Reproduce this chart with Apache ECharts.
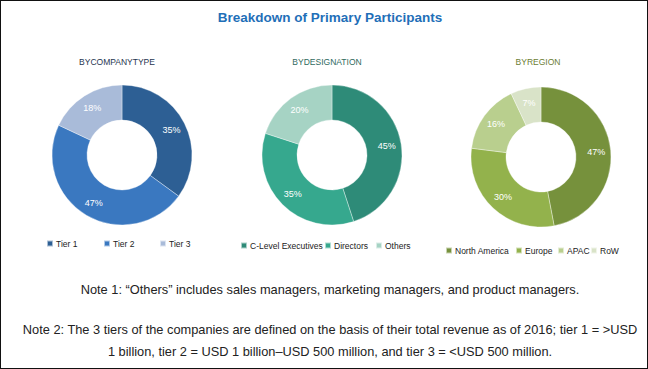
<!DOCTYPE html>
<html>
<head>
<meta charset="utf-8">
<script src="https://cdn.jsdelivr.net/npm/echarts@6/dist/echarts.min.js"></script>
<style>
html,body{margin:0;padding:0;background:#fff;}
#frame{width:648px;height:369px;box-sizing:border-box;border:1px solid #111;position:relative;overflow:hidden;}
#chart{position:absolute;left:-1px;top:-1px;width:648px;height:369px;}
</style>
</head>
<body>
<div id="frame"><div id="chart"></div></div>
<script>
const mainTitle = 'Breakdown of Primary Participants';
const panelTitles = ['BYCOMPANYTYPE', 'BYDESIGNATION', 'BYREGION'];

const companyCategories = ['Tier 1', 'Tier 2', 'Tier 3'];
const companyValues = [35, 47, 18];

const designationCategories = ['C-Level Executives', 'Directors', 'Others'];
const designationValues = [45, 35, 20];

const regionCategories = ['North America', 'Europe', 'APAC', 'RoW'];
const regionValues = [47, 30, 16, 7];

const notes = [
  'Note 1: \u201cOthers\u201d includes sales managers, marketing managers, and product managers.',
  'Note 2: The 3 tiers of the companies are defined on the basis of their total revenue as of 2016; tier 1 = >USD',
  '1 billion, tier 2 = USD 1 billion\u2013USD 500 million, and tier 3 = <USD 500 million.'
];

// layout (legend item x positions and rows)
const layout = {
  legendX: [[46, 103, 159], [240, 324, 375], [445, 515, 557, 590]],
  legendY: [239, 241, 246]
};

const companyColors = ['#2d5f94', '#3a78c0', '#a9bbd9'];
const designationColors = ['#2e8b78', '#36a88e', '#a6d3c4'];
const regionColors = ['#76913c', '#93b24c', '#b9cf8e', '#d9e3c8'];
const titleColors = ['#1f3550', '#2f6a5e', '#6b7d33'];

const sans = '"Liberation Sans", Arial, sans-serif';

function mk(cats, vals){ return cats.map((c,i)=>({name:c, value:vals[i]})); }

function pieSeries(name, cats, vals, colors, center){
  return {
    type: 'pie', name: name,
    radius: [35, 70], center: center,
    startAngle: 90, clockwise: true,
    avoidLabelOverlap: false,
    color: colors,
    itemStyle: {borderColor: 'rgba(255,255,255,0.6)', borderWidth: 0.6},
    label: {show: true, position: 'inside', formatter: '{c}%', color: '#fff', fontSize: 9, fontFamily: sans},
    labelLine: {show: false},
    emphasis: {disabled: true},
    data: mk(cats, vals)
  };
}

const legends = [];
[companyCategories, designationCategories, regionCategories].forEach((cats, p) => {
  cats.forEach((c, i) => {
    legends.push({
      data: [c], left: layout.legendX[p][i], top: layout.legendY[p],
      itemWidth: 6, itemHeight: 6, icon: 'rect', padding: 0,
      selectedMode: false,
      textStyle: {fontSize: 8.5, color: '#222', fontFamily: sans, padding: [0,0,0,-2]}
    });
  });
});

function noteTitle(text, top){
  return {text: text, left: 325, top: top, textAlign: 'center',
    textStyle: {fontSize: 12.8, fontWeight: 'normal', color: '#222', fontFamily: sans}};
}

const chart = echarts.init(document.getElementById('chart'), null, {renderer: 'svg'});
chart.setOption({
  animation: false,
  title: [
    {text: mainTitle, left: 325, top: 5, textAlign: 'center',
     textStyle: {fontSize: 13.5, fontWeight: 'bold', color: '#1f6fb8', fontFamily: sans}},
    {text: panelTitles[0], left: 112, top: 52, textAlign: 'center',
     textStyle: {fontSize: 8.5, fontWeight: 'normal', color: titleColors[0], fontFamily: sans}},
    {text: panelTitles[1], left: 322, top: 52, textAlign: 'center',
     textStyle: {fontSize: 8.5, fontWeight: 'normal', color: titleColors[1], fontFamily: sans}},
    {text: panelTitles[2], left: 533, top: 52, textAlign: 'center',
     textStyle: {fontSize: 8.5, fontWeight: 'normal', color: titleColors[2], fontFamily: sans}},
    noteTitle(notes[0], 278),
    noteTitle(notes[1], 318),
    noteTitle(notes[2], 340)
  ],
  legend: legends,
  series: [
    pieSeries('company', companyCategories, companyValues, companyColors, [122, 155]),
    pieSeries('designation', designationCategories, designationValues, designationColors, [332, 155]),
    pieSeries('region', regionCategories, regionValues, regionColors, [541, 157])
  ]
});
</script>
</body>
</html>
